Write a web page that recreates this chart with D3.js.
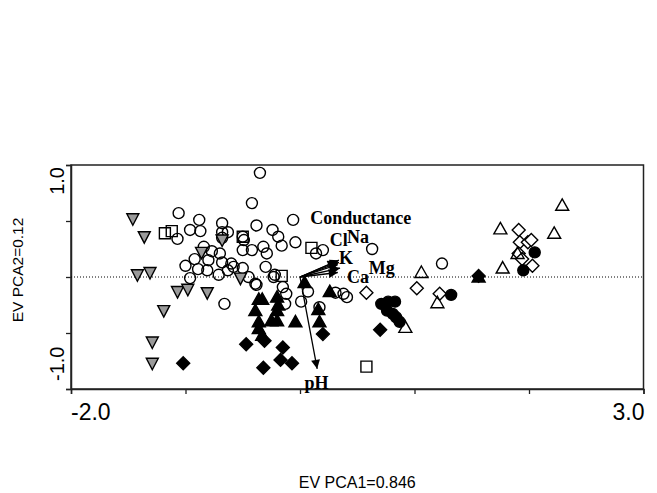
<!DOCTYPE html>
<html>
<head>
<meta charset="utf-8">
<script src="https://cdn.jsdelivr.net/npm/d3@7"></script>
<style>
  body { margin: 0; background: #fff; }
  svg { display: block; }
</style>
</head>
<body>
<div id="chart"></div>
<script>
// sample scores (PCA1, PCA2), grouped by marker
const openCircles = [
  [-0.35, 0.93], [-0.42, 0.66], [-1.06, 0.57], [-0.96, 0.42], [-0.88, 0.51], [-0.87, 0.41],
  [-0.68, 0.48], [-0.68, 0.40], [-0.63, 0.40], [-0.68, 0.35], [-0.50, 0.36], [-0.49, 0.33],
  [-0.38, 0.46], [-0.42, 0.24], [-0.50, 0.24], [-0.84, 0.27], [-0.77, 0.23], [-0.70, 0.21],
  [-0.92, 0.16], [-0.80, 0.15], [-0.68, 0.13], [-0.60, 0.12], [-0.50, 0.08], [-1.00, 0.10],
  [-0.81, 0.06], [-0.63, 0.06], [-1.07, 0.34], [-0.96, -0.01], [-0.89, 0.07], [-0.71, 0.02],
  [-0.58, 0.09], [-0.45, 0.00], [-0.38, -0.07], [-0.66, -0.24], [-0.24, 0.42], [-0.19, 0.36],
  [-0.16, 0.28], [-0.06, 0.51], [-0.04, 0.31], [-0.32, 0.27], [-0.29, 0.21], [-0.30, 0.09],
  [-0.23, 0.00], [0.14, 0.21], [0.20, 0.24], [0.63, 0.25], [-0.22, 0.02], [-0.15, -0.09],
  [-0.12, -0.15], [-0.13, -0.24], [-0.39, -0.06], [0.07, -0.13], [0.01, -0.22], [0.17, -0.27],
  [0.31, -0.14], [0.38, -0.15], [0.41, -0.18], [1.24, 0.12]
];
const openSquares = [
  [-1.18, 0.39], [-1.12, 0.41], [-0.50, 0.36], [-0.16, 0.01], [0.10, 0.26], [0.58, -0.80]
];
const greyTriDown = [
  [-1.46, 0.52], [-1.36, 0.36], [-0.86, 0.22], [-1.42, 0.02], [-1.31, 0.04], [-1.07, -0.13],
  [-0.98, -0.11], [-0.81, -0.14], [-1.19, -0.30], [-1.29, -0.58], [-1.29, -0.77], [-0.52, -0.01],
  [-0.68, 0.33]
];
const blackTriUp = [
  [0.04, -0.05], [0.26, -0.13], [-0.36, -0.20], [-0.33, -0.20], [-0.39, -0.30], [-0.20, -0.18],
  [-0.19, -0.25], [0.16, -0.29], [-0.04, -0.40], [-0.25, -0.39], [-0.20, -0.39], [0.17, -0.40],
  [-0.36, -0.40], [-0.36, -0.46], [-0.33, -0.52], [-0.20, -0.30], [1.56, 0.00]
];
const blackDiamonds = [
  [-1.02, -0.77], [-0.47, -0.60], [-0.31, -0.57], [-0.15, -0.63], [-0.17, -0.74], [-0.07, -0.77],
  [-0.32, -0.81], [0.20, -0.51], [0.70, -0.47], [1.56, 0.01]
];
const openDiamonds = [
  [0.58, -0.14], [1.02, -0.10], [1.22, -0.15], [1.91, 0.42], [1.92, 0.31], [1.99, 0.31],
  [2.02, 0.33], [1.91, 0.21], [1.94, 0.16], [2.03, 0.10]
];
const blackCircles = [
  [0.71, -0.24], [0.77, -0.22], [0.83, -0.22], [0.76, -0.30], [0.81, -0.33], [0.87, -0.40],
  [0.84, -0.36], [1.32, -0.16], [2.05, 0.22], [1.95, 0.06]
];
const openTriUp = [
  [2.29, 0.64], [2.22, 0.39], [1.75, 0.43], [1.77, 0.08], [1.06, 0.04], [1.20, -0.23],
  [0.92, -0.45], [1.90, 0.21]
];

// environmental variable arrows
const varNames = ['Conductance', 'Cl', 'Na', 'K', 'Mg', 'Ca', 'pH'];
const varTips = [[0.34, 0.15], [0.32, 0.14], [0.34, 0.13], [0.33, 0.11], [0.35, 0.08], [0.33, 0.04], [0.15, -0.82]];
const varLabelPos = [[0.09, 0.47], [0.26, 0.28], [0.41, 0.30], [0.34, 0.12], [0.60, 0.03], [0.41, -0.05], [0.04, -1.0]];

const xTickLabels = ['-2.0', '3.0'];
const yTickLabels = ['-1.0', '1.0'];
const xTitle = 'EV PCA1=0.846';
const yTitle = 'EV PCA2=0.12';

const W = 657, H = 493;
const svg = d3.select('#chart').append('svg').attr('width', W).attr('height', H);

const x = d3.scaleLinear().domain([-2, 3]).range([71, 643.5]);
const y = d3.scaleLinear().domain([-1, 1]).range([389, 165]);

// frame
svg.append('rect')
  .attr('x', x(-2)).attr('y', y(1))
  .attr('width', x(3) - x(-2)).attr('height', y(-1) - y(1))
  .attr('fill', 'none').attr('stroke', '#222').attr('stroke-width', 1.5);

// axes (ticks only, labels drawn at the ends)
svg.append('g')
  .attr('transform', `translate(0,${y(-1)})`)
  .call(d3.axisBottom(x).tickValues([-2, -1, 0, 1, 2, 3]).tickSize(5).tickFormat(''))
  .call(g => g.select('.domain').attr('stroke', '#222').attr('stroke-width', 1.5))
  .call(g => g.selectAll('.tick line').attr('stroke', '#222').attr('stroke-width', 1.3));

svg.append('g')
  .attr('transform', `translate(${x(-2)},0)`)
  .call(d3.axisLeft(y).tickValues([-1, -0.5, 0, 0.5, 1]).tickSize(5).tickFormat(''))
  .call(g => g.select('.domain').attr('stroke', '#222').attr('stroke-width', 1.5))
  .call(g => g.selectAll('.tick line').attr('stroke', '#222').attr('stroke-width', 1.3));

const sans = 'Liberation Sans, Arial, sans-serif';

svg.append('text').attr('x', x(-2)).attr('y', 420)
  .attr('text-anchor', 'start').style('font-family', sans).style('font-size', '23px')
  .text(xTickLabels[0]);
svg.append('text').attr('x', x(3) + 1).attr('y', 420)
  .attr('text-anchor', 'end').style('font-family', sans).style('font-size', '23px')
  .text(xTickLabels[1]);

svg.append('text').attr('transform', `translate(64,${y(-1) - 8}) rotate(-90)`)
  .attr('text-anchor', 'start').style('font-family', sans).style('font-size', '20px')
  .text(yTickLabels[0]);
svg.append('text').attr('transform', `translate(64,${y(1) + 2}) rotate(-90)`)
  .attr('text-anchor', 'end').style('font-family', sans).style('font-size', '20px')
  .text(yTickLabels[1]);

svg.append('text').attr('x', (x(-2) + x(3)) / 2).attr('y', 488)
  .attr('text-anchor', 'middle').style('font-family', sans).style('font-size', '16px')
  .text(xTitle);
svg.append('text').attr('transform', `translate(23,270) rotate(-90)`)
  .attr('text-anchor', 'middle').style('font-family', sans).style('font-size', '15.5px')
  .text(yTitle);

// dotted zero line
svg.append('line')
  .attr('x1', x(-2)).attr('x2', x(3)).attr('y1', y(0)).attr('y2', y(0))
  .attr('stroke', '#000').attr('stroke-width', 1).attr('stroke-dasharray', '1,2');

// marker shapes
const shapes = {
  circle: 'M5.5,0A5.5,5.5 0 1,1 -5.5,0A5.5,5.5 0 1,1 5.5,0Z',
  square: 'M-5.5,-5.5H5.5V5.5H-5.5Z',
  triUp: 'M0,-6.5L6.5,5L-6.5,5Z',
  triDown: 'M0,6.5L6,-5L-6,-5Z',
  diamond: 'M0,-6.5L6.5,0L0,6.5L-6.5,0Z'
};

function drawGroup(data, shape, fill) {
  svg.append('g').selectAll('path')
    .data(data)
    .enter()
    .append('path')
    .attr('d', shapes[shape])
    .attr('transform', d => `translate(${x(d[0])},${y(d[1])})`)
    .attr('fill', fill)
    .attr('stroke', '#000')
    .attr('stroke-width', 1.4);
}

drawGroup(openCircles, 'circle', 'none');
drawGroup(openSquares, 'square', 'none');
drawGroup(greyTriDown, 'triDown', '#9a9a9a');
drawGroup(openDiamonds, 'diamond', '#fff');
drawGroup(openTriUp, 'triUp', 'none');
drawGroup(blackTriUp, 'triUp', '#000');
drawGroup(blackDiamonds, 'diamond', '#000');
drawGroup(blackCircles, 'circle', '#000');

// arrows
svg.append('defs').append('marker')
  .attr('id', 'head')
  .attr('viewBox', '0 0 10 10')
  .attr('refX', 10).attr('refY', 5)
  .attr('markerWidth', 13).attr('markerHeight', 9)
  .attr('markerUnits', 'userSpaceOnUse')
  .attr('orient', 'auto')
  .append('path').attr('d', 'M0,0L10,5L0,10Z').attr('fill', '#000');

svg.append('g').selectAll('line')
  .data(varTips)
  .enter()
  .append('line')
  .attr('x1', x(0)).attr('y1', y(0))
  .attr('x2', d => x(d[0])).attr('y2', d => y(d[1]))
  .attr('stroke', '#000').attr('stroke-width', 1.3)
  .attr('marker-end', 'url(#head)');

svg.append('g').selectAll('text')
  .data(varNames)
  .enter()
  .append('text')
  .attr('x', (d, i) => x(varLabelPos[i][0]))
  .attr('y', (d, i) => y(varLabelPos[i][1]))
  .style('font-family', 'Liberation Serif, Times New Roman, serif')
  .style('font-weight', 'bold')
  .style('font-size', '18px')
  .text(d => d);
</script>
</body>
</html>
